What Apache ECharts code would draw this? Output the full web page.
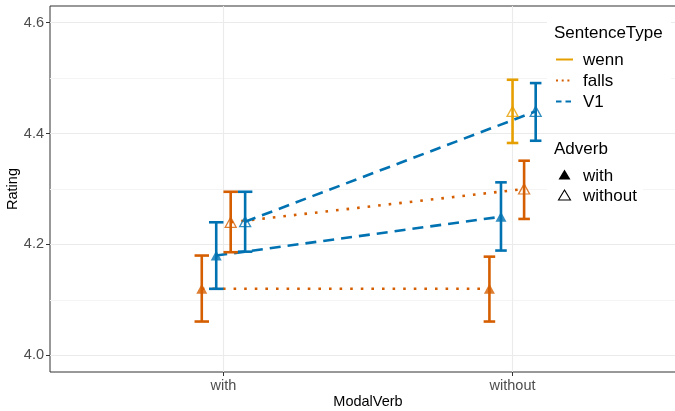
<!DOCTYPE html>
<html>
<head>
<meta charset="utf-8">
<script src="https://cdn.jsdelivr.net/npm/echarts@6/dist/echarts.min.js"></script>
<style>
  html, body { margin: 0; padding: 0; background: #fff; }
  #chart { width: 675px; height: 411px; }
</style>
</head>
<body>
<div id="chart"></div>
<script>
// x categories (ModalVerb)
const modalVerb = ['with', 'without'];
// groups = SentenceType x Adverb, in ggplot's dodge order
const groupType = ['wenn', 'falls', 'V1', 'wenn', 'falls', 'V1'];
const groupAdverb = ['with', 'with', 'with', 'without', 'without', 'without'];
// mean rating at [with, without]; null = no cell
const groupMean = [
  [null, null],
  [4.12, 4.12],
  [4.18, 4.25],
  [null, 4.44],
  [4.24, 4.30],
  [4.241, 4.44]
];
const groupLow = [
  [null, null],
  [4.061, 4.061],
  [4.120, 4.189],
  [null, 4.383],
  [4.186, 4.246],
  [4.187, 4.387]
];
const groupHigh = [
  [null, null],
  [4.180, 4.178],
  [4.240, 4.312],
  [null, 4.497],
  [4.295, 4.351],
  [4.295, 4.491]
];
// axis ticks
const yTicks = [4.0, 4.2, 4.4, 4.6];
const yMinor = [4.1, 4.3, 4.5];
const xTicks = [1, 2];

const typeColor = { wenn: '#E69F00', falls: '#D55E00', V1: '#0072B2' };
const typeDash = { wenn: 'solid', falls: [2.6, 8], V1: [11, 7] };
const DODGE = 0.2;
const FONT = '"Liberation Sans", Arial, Helvetica, sans-serif';

// dodge position of a group inside one category
function dodgeX(g, c) {
  const present = [];
  groupMean.forEach((m, i) => { if (m[c] != null) present.push(i); });
  const n = present.length;
  const i = present.indexOf(g);
  return { x: c + 1 + (i - (n - 1) / 2) * DODGE / n, w: DODGE / n };
}

const series = [];

// gridlines (ggplot theme_bw style)
const gridLines = [];
yMinor.forEach(v => gridLines.push({ yAxis: v, lineStyle: { color: '#F4F4F4', width: 1, type: 'solid' } }));
yTicks.forEach(v => gridLines.push({ yAxis: v, lineStyle: { color: '#EBEBEB', width: 1.1, type: 'solid' } }));
xTicks.forEach(v => gridLines.push({ xAxis: v, lineStyle: { color: '#EBEBEB', width: 1.1, type: 'solid' } }));
series.push({
  type: 'line',
  data: [],
  z: 1,
  markLine: {
    z: 1,
    silent: true,
    symbol: ['none', 'none'],
    label: { show: false },
    emphasis: { disabled: true },
    animation: false,
    data: gridLines
  }
});

groupMean.forEach((means, g) => {
  const color = typeColor[groupType[g]];
  const pts = [];
  const bars = [];
  means.forEach((m, c) => {
    if (m == null) return;
    const d = dodgeX(g, c);
    pts.push([d.x, m]);
    bars.push([d.x, groupLow[g][c], groupHigh[g][c], d.w]);
  });
  if (!pts.length) return;

  if (pts.length > 1) {
    series.push({
      type: 'line',
      data: pts,
      symbol: 'none',
      z: 10,
      lineStyle: { color: color, width: 2.6, type: typeDash[groupType[g]] }
    });
  }

  series.push({
    type: 'custom',
    data: bars,
    z: 11,
    renderItem: function (params, api) {
      const x = api.value(0);
      const top = api.coord([x, api.value(2)]);
      const bot = api.coord([x, api.value(1)]);
      const half = api.size([api.value(3), 0])[0] / 2;
      const style = { stroke: color, lineWidth: 2.6, fill: null };
      return {
        type: 'group',
        children: [
          { type: 'line', shape: { x1: top[0], y1: top[1], x2: bot[0], y2: bot[1] }, style: style },
          { type: 'line', shape: { x1: top[0] - half, y1: top[1], x2: top[0] + half, y2: top[1] }, style: style },
          { type: 'line', shape: { x1: bot[0] - half, y1: bot[1], x2: bot[0] + half, y2: bot[1] }, style: style }
        ]
      };
    }
  });

  const hollow = groupAdverb[g] === 'without';
  series.push({
    type: 'scatter',
    data: pts,
    symbol: 'triangle',
    symbolSize: [11, 10],
    z: 12,
    itemStyle: hollow
      ? { color: 'rgba(255,255,255,0)', borderColor: color, borderWidth: 1.3 }
      : { color: color }
  });
});

// legend drawn as graphics (two ggplot guide boxes)
const legendEls = [];
const lx = 554, keyX1 = 556, keyX2 = 573, textX = 583;
legendEls.push({ type: 'rect', shape: { x: 547, y: 11, width: 124, height: 117 }, style: { fill: '#fff' } });
legendEls.push({ type: 'rect', shape: { x: 547, y: 137, width: 96, height: 72 }, style: { fill: '#fff' } });
legendEls.push({ type: 'text', style: { text: 'SentenceType', x: lx, y: 33, font: '17px ' + FONT, fill: '#000', verticalAlign: 'middle' } });
const typeRows = [['wenn', 59.5, null, 2], ['falls', 80.5, [2, 3.7], 2], ['V1', 101.5, [5.5, 4], 2]];
typeRows.forEach(r => {
  legendEls.push({ type: 'line', shape: { x1: keyX1, y1: r[1], x2: keyX2, y2: r[1] }, style: { stroke: typeColor[r[0]], lineWidth: r[3], lineDash: r[2] } });
  legendEls.push({ type: 'text', style: { text: r[0], x: textX, y: r[1] + 1, font: '17px ' + FONT, fill: '#000', verticalAlign: 'middle' } });
});
legendEls.push({ type: 'text', style: { text: 'Adverb', x: lx, y: 149, font: '17px ' + FONT, fill: '#000', verticalAlign: 'middle' } });
const advRows = [['with', 175, true], ['without', 195.5, false]];
advRows.forEach(r => {
  const cx = 564.5, cy = r[1];
  legendEls.push({
    type: 'polygon',
    shape: { points: [[cx, cy - 5.5], [cx + 6, cy + 4.5], [cx - 6, cy + 4.5]] },
    style: r[2] ? { fill: '#000' } : { fill: 'none', stroke: '#000', lineWidth: 1.1 }
  });
  legendEls.push({ type: 'text', style: { text: r[0], x: textX, y: r[1] + 1, font: '17px ' + FONT, fill: '#000', verticalAlign: 'middle' } });
});
legendEls.forEach(e => { e.z = 100; e.silent = true; });

const chart = echarts.init(document.getElementById('chart'));
chart.setOption({
  animation: false,
  backgroundColor: '#fff',
  textStyle: { fontFamily: FONT },
  grid: {
    left: 50, top: 6, width: 636, height: 366,
    outerBoundsMode: 'none',
    containLabel: false,
    show: true, backgroundColor: '#fff', borderColor: '#333333', borderWidth: 1
  },
  xAxis: {
    type: 'value',
    min: 0.4, max: 2.6,
    name: 'ModalVerb',
    nameLocation: 'middle',
    nameGap: 22,
    nameMoveOverlap: false,
    nameTextStyle: { color: '#000', fontSize: 14.5, fontFamily: FONT },
    axisLine: { show: false },
    splitLine: { show: false },
    axisTick: { show: true, length: 4, customValues: xTicks, lineStyle: { color: '#333333', width: 1 } },
    axisLabel: {
      customValues: xTicks,
      margin: 6,
      color: '#4D4D4D', fontSize: 14.5, fontFamily: FONT,
      formatter: v => modalVerb[Math.round(v) - 1]
    }
  },
  yAxis: {
    type: 'value',
    min: 3.97, max: 4.63,
    name: 'Rating',
    nameLocation: 'middle',
    nameRotate: 90,
    nameGap: 30,
    nameMoveOverlap: false,
    nameTextStyle: { color: '#000', fontSize: 14.5, fontFamily: FONT },
    axisLine: { show: false },
    splitLine: { show: false },
    axisTick: { show: true, length: 4, customValues: yTicks, lineStyle: { color: '#333333', width: 1 } },
    axisLabel: {
      customValues: yTicks,
      margin: 6,
      color: '#4D4D4D', fontSize: 14.5, fontFamily: FONT,
      formatter: v => v.toFixed(1)
    }
  },
  graphic: { elements: legendEls },
  series: series
});
</script>
</body>
</html>
